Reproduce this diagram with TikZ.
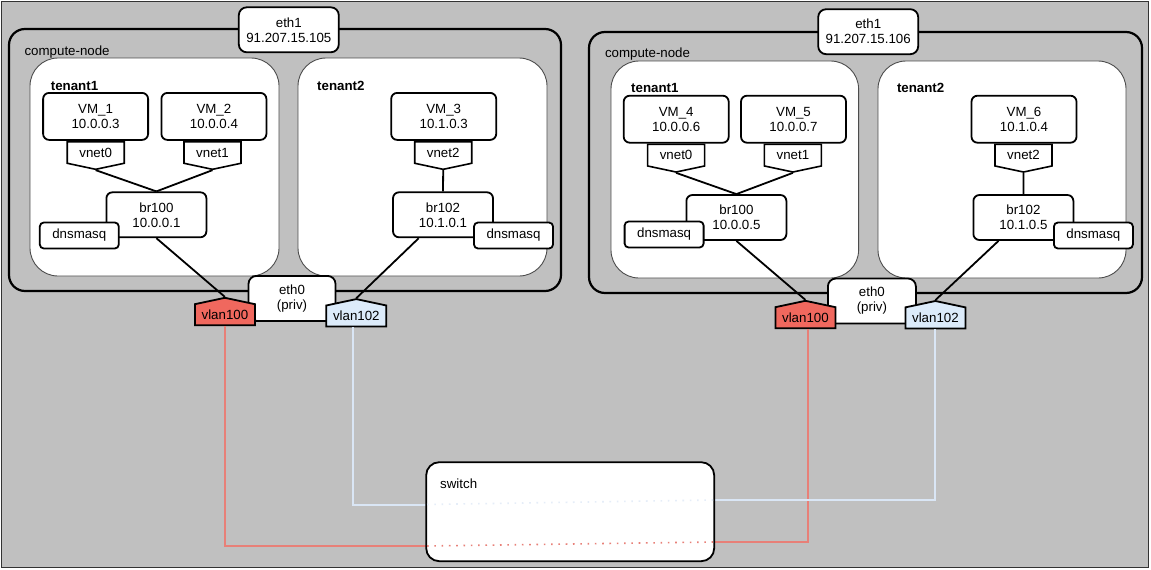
\documentclass[tikz,border=0pt]{standalone}
\usepackage{fontspec}
\setmainfont{Liberation Sans}
\usetikzlibrary{shapes.symbols}
\definecolor{bggray}{RGB}{192,192,192}
\definecolor{vlanred}{RGB}{240,104,94}
\definecolor{vlanblue}{RGB}{220,235,250}
\definecolor{wirered}{RGB}{232,128,120}
\definecolor{wireblue}{RGB}{218,230,245}
\begin{document}
\begin{tikzpicture}[x=1pt, y=-1pt, font=\fontsize{13.3}{15}\selectfont,
    computenode/.style ={draw, line width=2.2pt, rounded corners=16pt},
    tenant/.style ={draw=black!70, fill=white, line width=0.9pt, rounded corners=28pt},
    lbl/.style ={anchor=west, inner sep=0pt},
    vm/.style ={draw, fill=white, line width=1.8pt, rounded corners=6pt, align=center,
                minimum width=105pt, minimum height=47pt, inner sep=0pt},
    br/.style ={draw, fill=white, line width=1.8pt, rounded corners=6pt, align=center,
                minimum width=100pt, minimum height=45pt, inner sep=0pt},
    ethbox/.style ={draw, fill=white, line width=1.8pt, rounded corners=8pt, align=center,
                minimum width=100pt, minimum height=45pt, inner sep=0pt},
    dns/.style ={draw, fill=white, line width=1.8pt, rounded corners=4pt,
                minimum width=79pt, minimum height=26pt, inner sep=0pt},
    vnet/.style ={signal, signal to=south, signal pointer angle=156, draw, fill=white,
                line width=1.6pt, minimum width=57pt, minimum height=25pt, inner sep=0pt},
    vlan/.style ={signal, signal to=north, signal pointer angle=156, draw,
                line width=1.8pt, minimum width=60pt, minimum height=26pt, inner sep=0pt},
    switchbox/.style ={draw, fill=white, line width=1.8pt, rounded corners=13pt,
                minimum width=288pt, minimum height=99pt},
    link/.style ={line width=1.8pt},
    redwire/.style ={draw=wirered, line width=2pt},
    bluewire/.style ={draw=wireblue, line width=2pt},
    reddots/.style ={draw=wirered, line width=1.6pt, dash pattern=on 1.6pt off 5.7pt},
    bluedots/.style ={draw=wireblue!70, line width=1.6pt, dash pattern=on 1.6pt off 5.7pt}]
   \useasboundingbox (0,0) rectangle (1151,570);
   \draw[fill=bggray, draw=black!80, line width=0.8pt] (1,1) rectangle (1148,567);

   % first compute node
   \draw[computenode] (9,29) rectangle (561,291);
   \node[ethbox] (eA) at (288.8,29.8) {eth1\\91.207.15.105};
   \node[lbl] (cA) at (24.4,52) {compute-node};
   \draw[tenant] (30,58) rectangle (279,276);
   \draw[tenant] (298,58) rectangle (547,276);
   \node[lbl] (tA1) at (50.7,85.7) {\bfseries tenant1};
   \node[lbl] (tA2) at (317,85.7) {\bfseries tenant2};
   \node[vm] (V1) at (95.6,116.4) {VM\_1\\10.0.0.3};
   \node[vm] (V2) at (213.9,116.4) {VM\_2\\10.0.0.4};
   \node[vm] (V3) at (443.7,116.4) {VM\_3\\10.1.0.3};
   \node[vnet] (nA0) at (95.7,152.5) {vnet0};
   \node[vnet] (nA1) at (212.5,152.5) {vnet1};
   \node[vnet] (nA2) at (443.2,152.5) {vnet2};
   \node[br] (bA1) at (156.4,214.8) {br100\\10.0.0.1};
   \node[br] (bA2) at (443,214.8) {br102\\10.1.0.1};
   \draw[link] (nA0.south) to (bA1.north);
   \draw[link] (nA1.south) to (bA1.north);
   \draw[link] (nA2.south) to (bA2.north);
   \node[dns] (dA1) at (79.3,235.5) {dnsmasq};
   \node[dns] (dA2) at (513.5,235.5) {dnsmasq};
   \node[ethbox, minimum width=87pt] (oA) at (292,298.4) {eth0\\(priv)};
   \node[vlan, fill=vlanred] (lA1) at (224.9,314.7) {vlan100};
   \node[vlan, fill=vlanblue] (lA2) at (356.3,316) {vlan102};
   \draw[link] (bA1.south) to (lA1.north);
   \draw[link] (bA2) to (lA2.north);

   % second compute node
   \draw[computenode] (589,32) rectangle (1142,293);
   \node[ethbox] (eB) at (868.2,31.7) {eth1\\91.207.15.106};
   \node[lbl] (cB) at (604.8,54.3) {compute-node};
   \draw[tenant] (611,61) rectangle (858.6,278);
   \draw[tenant] (878,61) rectangle (1126,278);
   \node[lbl] (tB1) at (631,88.3) {\bfseries tenant1};
   \node[lbl] (tB2) at (896.8,88.3) {\bfseries tenant2};
   \node[vm] (V4) at (676.2,119.2) {VM\_4\\10.0.0.6};
   \node[vm] (V5) at (793.5,119.2) {VM\_5\\10.0.0.7};
   \node[vm] (V6) at (1024,119.2) {VM\_6\\10.1.0.4};
   \node[vnet] (nB0) at (676.1,155.2) {vnet0};
   \node[vnet] (nB1) at (792.9,155.2) {vnet1};
   \node[vnet] (nB2) at (1023.5,155.2) {vnet2};
   \node[br] (bB1) at (736.4,217.5) {br100\\10.0.0.5};
   \node[br] (bB2) at (1023.4,217.5) {br102\\10.1.0.5};
   \draw[link] (nB0.south) to (bB1.north);
   \draw[link] (nB1.south) to (bB1.north);
   \draw[link] (nB2.south) to (bB2.north);
   \node[dns] (dB1) at (664.1,234.5) {dnsmasq};
   \node[dns] (dB2) at (1093.4,235.5) {dnsmasq};
   \node[ethbox, minimum width=88pt] (oB) at (871.9,301) {eth0\\(priv)};
   \node[vlan, fill=vlanred] (lB1) at (805.4,317.7) {vlan100};
   \node[vlan, fill=vlanblue] (lB2) at (935.4,317.9) {vlan102};
   \draw[link] (bB1.south) to (lB1.north);
   \draw[link] (bB2) to (lB2.north);

   % wires to the switch
   \coordinate (sRa) at (427,546);
   \coordinate (sRb) at (713,542);
   \coordinate (sBa) at (427,504.5);
   \coordinate (sBb) at (713,500);
   \draw[redwire] (lA1.south) |- (sRa);
   \draw[bluewire] ([xshift=-3pt]lA2.south) |- (sBa);
   \draw[redwire] (sRb) -| ([xshift=2.5pt]lB1.south);
   \draw[bluewire] (sBb) -| (lB2.south);
   \node[switchbox] (sw) at (570.2,511.7) {};
   \node[lbl] (swl) at (440,484) {switch};
   \draw[reddots] (sRa) to (sRb);
   \draw[bluedots] (sBa) to (sBb);
 \end{tikzpicture}
\end{document}
